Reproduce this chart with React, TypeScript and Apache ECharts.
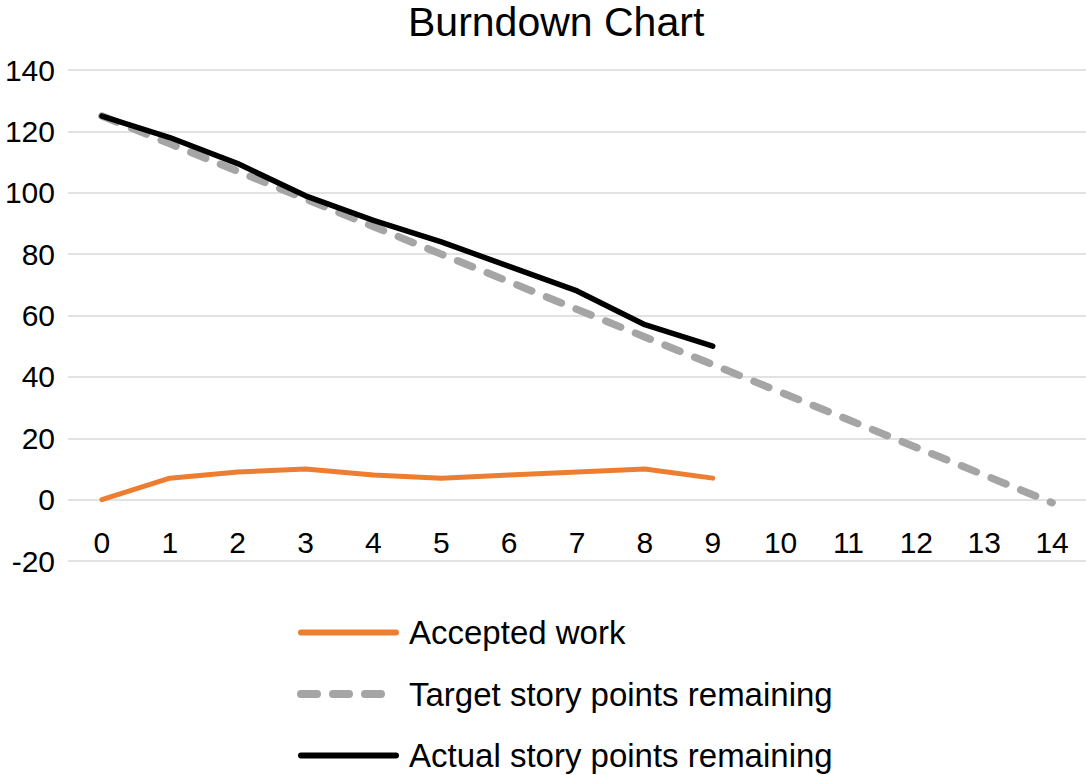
import React, { useEffect, useRef } from "react";
import * as echarts from "echarts";

const days = ["0", "1", "2", "3", "4", "5", "6", "7", "8", "9", "10", "11", "12", "13", "14"];
const acceptedWork = [0, 7, 9, 10, 8, 7, 8, 9, 10, 7];
const targetRemaining = [125, 116, 107, 98, 89, 80, 71, 62, 53, 44, 35, 26, 17, 8, -1];
const actualRemaining = [125, 118, 109.5, 99, 91, 84, 76, 68, 57, 50];

const FONT = "'Liberation Sans', Arial, Helvetica, sans-serif";

export default function App() {
  const ref = useRef<HTMLDivElement>(null);
  useEffect(() => {
    if (!ref.current) return;
    const chart = echarts.init(ref.current, undefined, { renderer: "svg" });
    chart.setOption({
      animation: false,
      backgroundColor: "#ffffff",
      title: {
        text: "Burndown Chart",
        left: 408,
        top: 1,
        padding: 0,
        textStyle: { fontFamily: FONT, fontSize: 41, fontWeight: "normal", color: "#000" },
      },
      grid: { left: 68, right: 0, top: 70, bottom: 214, containLabel: false },
      xAxis: {
        type: "category",
        data: days,
        boundaryGap: true,
        axisLine: { show: false },
        axisTick: { show: false },
        axisLabel: { fontFamily: FONT, fontSize: 30, color: "#000", margin: -34, interval: 0 },
        splitLine: { show: false },
      },
      yAxis: {
        type: "value",
        min: -20,
        max: 140,
        interval: 20,
        axisLine: { show: false },
        axisTick: { show: false },
        axisLabel: { fontFamily: FONT, fontSize: 30, color: "#000", margin: 13 },
        splitLine: { lineStyle: { color: "#d9d9d9", width: 1.5 } },
      },
      legend: {
        orient: "vertical",
        left: 297,
        top: 616,
        height: 300,
        padding: 0,
        itemWidth: 95,
        itemHeight: 14,
        itemGap: 28.5,
        itemStyle: { opacity: 0 },
        textStyle: { fontFamily: FONT, fontSize: 33, color: "#000", padding: [0, 0, 0, 8] },
        data: [
          { name: "Accepted work", lineStyle: { width: 6, color: "#ED7D31", cap: "round" } },
          { name: "Target story points remaining", lineStyle: { width: 8, color: "#A5A5A5", type: [16, 16], cap: "round" } },
          { name: "Actual story points remaining", lineStyle: { width: 6, color: "#000000", cap: "round" } },
        ],
      },
      series: [
        {
          name: "Accepted work",
          type: "line",
          data: acceptedWork,
          symbol: "none",
          color: "#ED7D31",
          lineStyle: { width: 5, color: "#ED7D31", cap: "round", join: "round" },
          z: 3,
        },
        {
          name: "Target story points remaining",
          type: "line",
          data: targetRemaining,
          symbol: "none",
          color: "#A5A5A5",
          lineStyle: { width: 7.5, color: "#A5A5A5", type: [16, 16], cap: "round", join: "round" },
          z: 2,
        },
        {
          name: "Actual story points remaining",
          type: "line",
          data: actualRemaining,
          symbol: "none",
          color: "#000000",
          lineStyle: { width: 5.5, color: "#000000", cap: "round", join: "round" },
          z: 4,
        },
      ],
    });
    return () => chart.dispose();
  }, []);
  return (
    <div
      ref={ref}
      style={{ position: "fixed", left: 0, top: 0, width: 1086, height: 775, background: "#fff" }}
    />
  );
}
